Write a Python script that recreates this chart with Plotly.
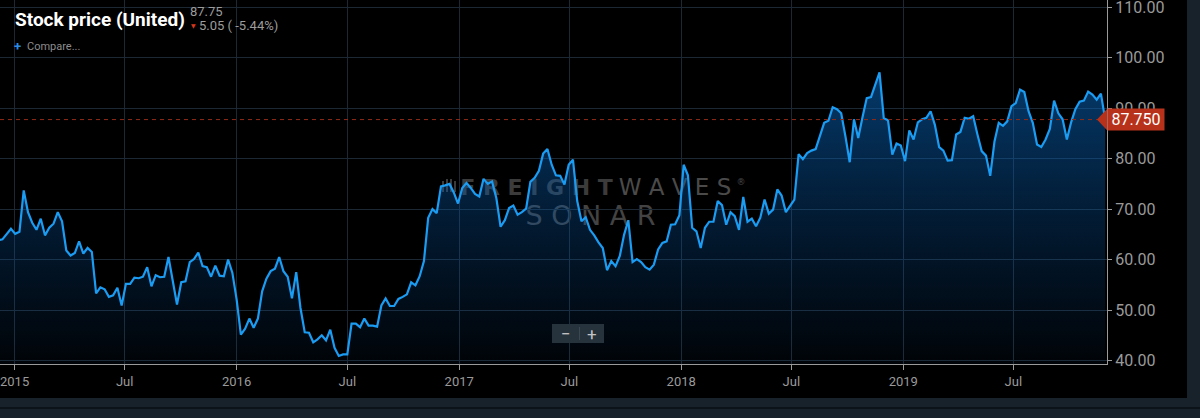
import pandas as pd
import plotly.graph_objects as go

# weekly closes, late Nov 2014 -> late Nov 2019
prices_a = [63.4, 63.8, 64.0, 65.0, 66.1, 65.1, 65.5, 73.7, 69.4, 67.3, 65.9, 68.1, 64.8, 66.3,
            67.1, 69.4, 67.6, 61.8, 60.8, 61.3, 63.6, 61.2, 62.3, 61.5, 53.3, 54.5, 54.1, 52.6,
            52.9, 54.4, 50.9, 55.2, 55.2, 56.4, 56.3, 56.6, 58.5, 54.7, 56.9, 56.5, 56.6, 60.5,
            55.4, 51.1, 55.5, 55.7, 59.5, 60.1, 61.4, 58.7, 58.5, 56.6, 58.8, 56.8, 56.7, 60.0]
prices_b = [57.4, 52.1, 45.1, 46.3, 48.3, 46.5, 48.3, 53.7, 56.2, 57.7, 58.2, 60.5, 57.7, 56.6,
            52.3, 57.5, 50.4, 45.6, 45.5, 43.6, 44.2, 45.0, 44.0, 46.1, 42.5, 40.9, 41.2, 41.2,
            47.3, 47.3, 46.6, 48.3, 46.9, 46.9, 46.7, 50.9, 52.3, 50.8, 50.8, 52.2, 52.6, 53.1,
            55.5, 54.9, 56.7, 59.7]
prices_c = [68.3, 70.0, 69.2, 74.5, 74.7, 75.0, 73.3, 71.1, 74.2, 75.2, 74.2, 73.0, 72.5, 76.0,
            75.0, 75.5, 72.2, 66.5, 67.8, 70.2, 70.7, 68.9, 69.4, 70.1, 75.4, 76.2, 77.6, 81.0,
            81.9, 78.8, 76.7, 76.6, 74.9, 78.8, 79.8, 71.6, 67.6, 68.4, 65.9, 64.8, 63.4, 62.3,
            57.9, 59.7, 58.7, 60.7, 64.9, 67.8, 59.5, 60.1, 59.5, 58.5, 58.0, 59.0, 62.0, 63.3,
            63.6, 66.9, 67.0, 68.8]
prices_d = [78.8, 76.7, 66.3, 65.6, 62.3, 66.3, 67.5, 67.5, 71.6, 70.8, 66.9, 69.4, 68.6, 65.9,
            72.4, 67.5, 68.1, 66.6, 68.3, 71.9, 69.1, 69.9, 73.9, 72.7, 69.4, 70.7, 71.9, 80.9,
            79.9, 81.1, 81.6, 81.9, 84.6, 87.1, 87.5, 90.2, 89.8, 89.0, 84.4, 79.3, 87.8, 84.1,
            88.2, 92.0, 92.2, 94.7, 97.1, 88.0, 87.6, 80.8, 83.0, 82.6, 79.5]
prices_e = [85.6, 83.8, 87.2, 87.8, 88.1, 89.4, 86.7, 82.3, 81.6, 79.6, 79.7, 84.8, 85.3, 88.1,
            87.9, 88.4, 84.8, 81.5, 80.6, 76.6, 83.4, 87.1, 86.5, 87.4, 90.4, 91.0, 93.7, 93.2,
            89.4, 87.1, 82.8, 82.3, 83.8, 85.9, 91.5, 89.0, 87.8, 83.8, 87.2, 89.8, 91.3, 91.5,
            93.3, 92.7, 91.7, 92.9, 87.75]

xtick_dates = ["2015-01-01", "2015-07-01", "2016-01-01", "2016-07-01", "2017-01-01",
               "2017-07-01", "2018-01-01", "2018-07-01", "2019-01-01", "2019-07-01"]
xtick_text = ["2015", "Jul", "2016", "Jul", "2017", "Jul", "2018", "Jul", "2019", "Jul"]
ytick_vals = [40, 50, 60, 70, 80, 90, 100, 110]

last_price = 87.75
change_text = "5.05 ( -5.44%)"

prices = prices_a + prices_b + prices_c + prices_d + prices_e
dates = pd.date_range("2014-11-28", periods=len(prices), freq="7D")

# plot area size in px (margins l=0 t=0 r=93 b=54)
PW, PH = 1107, 364


def fx(px):
    return px / PW


def fy(py):
    return (PH - py) / PH


fig = go.Figure()
fig.add_trace(go.Scatter(
    x=dates, y=prices, mode="lines",
    line=dict(color="#1b9cf2", width=2.2),
    fill="tozeroy",
    fillgradient=dict(type="vertical", start=39.3, stop=97,
                      colorscale=[[0, "rgba(8,80,160,0.05)"],
                                  [0.5, "rgba(8,90,170,0.30)"],
                                  [1, "rgba(8,100,185,0.58)"]]),
    hoverinfo="skip",
))

shapes = [
    # black chart panel, slate frame around it (plot bg is transparent)
    dict(type="rect", xref="paper", yref="paper", x0=0, x1=fx(1187), y0=fy(398), y1=1,
         fillcolor="black", line=dict(width=0), layer="below"),
]


# watermark, drawn in the lower layer so it stays under grid and line
def wm(x0, x1, y0, y1, text, size, color, family="DejaVu Sans"):
    return dict(type="rect", xref="paper", yref="paper", x0=fx(x0), x1=fx(x1),
                y0=fy(y1), y1=fy(y0), line=dict(width=0), fillcolor="rgba(0,0,0,0)",
                layer="below",
                label=dict(text=text, textposition="middle center",
                           font=dict(size=size, color=color, family=family)))


shapes += [
    wm(461, 612, 175, 195, "<b>F R E I G H T</b>", 22, "#3b3b3b"),
    wm(612, 738, 175, 195, "W A V E S", 23, "#4a4a4a", "DejaVu Sans ExtraLight, DejaVu Sans"),
    wm(515, 666, 202, 224, "S O N A R", 27, "#434343", "DejaVu Sans ExtraLight, DejaVu Sans"),
    wm(736, 746, 176, 186, "®", 9, "#4a4a4a"),
]
for bx, top in [(443, 181), (447, 179), (451, 179), (455, 181)]:
    shapes.append(dict(type="line", xref="paper", yref="paper", layer="below",
                       x0=fx(bx), x1=fx(bx), y0=fy(192), y1=fy(top),
                       line=dict(color="#3b3b3b", width=2)))

shapes += [
    dict(type="line", xref="paper", yref="paper", x0=0, x1=fx(1200), y0=fy(408), y1=fy(408),
         line=dict(color="#0d1419", width=2)),
    # last price dashed line
    dict(type="line", xref="paper", yref="y", x0=0, x1=1, y0=last_price, y1=last_price,
         line=dict(color="#8f2b17", width=1, dash="4px,4px")),
    # arrow of the price tag
    dict(type="path", xref="paper", yref="y",
         path=f"M {fx(1097)},{last_price} L 1,{last_price + 2.1} L 1,{last_price - 2.1} Z",
         fillcolor="#b8321b", line=dict(width=0)),
    # zoom control
    dict(type="rect", xref="paper", yref="paper", x0=fx(552), x1=fx(604), y0=fy(343), y1=fy(324),
         fillcolor="#26323c", line=dict(width=0)),
    dict(type="line", xref="paper", yref="paper", x0=fx(579.5), x1=fx(579.5), y0=fy(340), y1=fy(327),
         line=dict(color="#3b4751", width=1)),
]

annotations = [
    dict(text="<b>Stock price (United)</b>", x=fx(13), y=fy(19), xanchor="left", yanchor="middle",
         font=dict(family="Roboto", size=19, color="white")),
    dict(text=f"{last_price:.2f}", x=fx(188), y=fy(11), xanchor="left", yanchor="middle",
         font=dict(family="Roboto", size=13, color="#9c9c9c")),
    dict(text="▼", x=fx(189), y=fy(26), xanchor="left", yanchor="middle",
         font=dict(family="DejaVu Sans", size=6, color="#d8381c")),
    dict(text=change_text, x=fx(197), y=fy(26), xanchor="left", yanchor="middle",
         font=dict(family="Roboto", size=13, color="#9c9c9c")),
    dict(text="<b>+</b>", x=fx(12), y=fy(46), xanchor="left", yanchor="middle",
         font=dict(family="Roboto", size=13, color="#2a8be0")),
    dict(text="Compare...", x=fx(25), y=fy(47), xanchor="left", yanchor="middle",
         font=dict(family="Roboto", size=11, color="#8c8c8c")),
    dict(text="−", x=fx(566), y=fy(333.5), xanchor="center", yanchor="middle",
         font=dict(family="Roboto", size=17, color="#c4c4c4")),
    dict(text="+", x=fx(592), y=fy(333.5), xanchor="center", yanchor="middle",
         font=dict(family="Roboto", size=17, color="#c4c4c4")),
    dict(text=f"{last_price:.3f}", xref="paper", yref="y", x=1, y=last_price,
         xanchor="left", yanchor="middle", width=56, height=21, align="center",
         bgcolor="#b8321b", borderpad=0,
         font=dict(family="Roboto", size=16, color="white")),
]
for a in annotations:
    a.setdefault("xref", "paper")
    a.setdefault("yref", "paper")
    a["showarrow"] = False

fig.update_layout(
    width=1200, height=418,
    margin=dict(l=0, r=93, t=0, b=54, pad=0),
    paper_bgcolor="#18222b",
    plot_bgcolor="rgba(0,0,0,0)",
    showlegend=False,
    shapes=shapes,
    annotations=annotations,
    xaxis=dict(
        range=["2014-12-08", "2019-12-02"],
        tickvals=xtick_dates, ticktext=xtick_text,
        showgrid=True, gridcolor="#1c2833", gridwidth=1,
        showline=True, linecolor="#9a9a9a", linewidth=1,
        ticks="outside", ticklen=5, tickcolor="#9a9a9a",
        tickfont=dict(family="Roboto", size=13, color="#9a9a9a"),
        ticklabeloverflow="allow",
        zeroline=False, automargin=False, fixedrange=True,
    ),
    yaxis=dict(
        range=[39.3, 111.45], side="right",
        tickvals=ytick_vals, tickformat=".2f",
        showgrid=True, gridcolor="#1c2833", gridwidth=1,
        showline=True, linecolor="#9a9a9a", linewidth=1,
        ticks="outside", ticklen=4, tickcolor="#9a9a9a",
        tickfont=dict(family="Roboto", size=16, color="#9a9a9a"),
        ticklabeloverflow="allow",
        zeroline=False, automargin=False, fixedrange=True,
    ),
)

# the page body has an 8px default margin; drop it so the figure sits at 0,0
fig.write_html("out.html", config={"displayModeBar": False},
               post_script="document.body.style.margin='0';document.body.style.overflow='hidden';")
